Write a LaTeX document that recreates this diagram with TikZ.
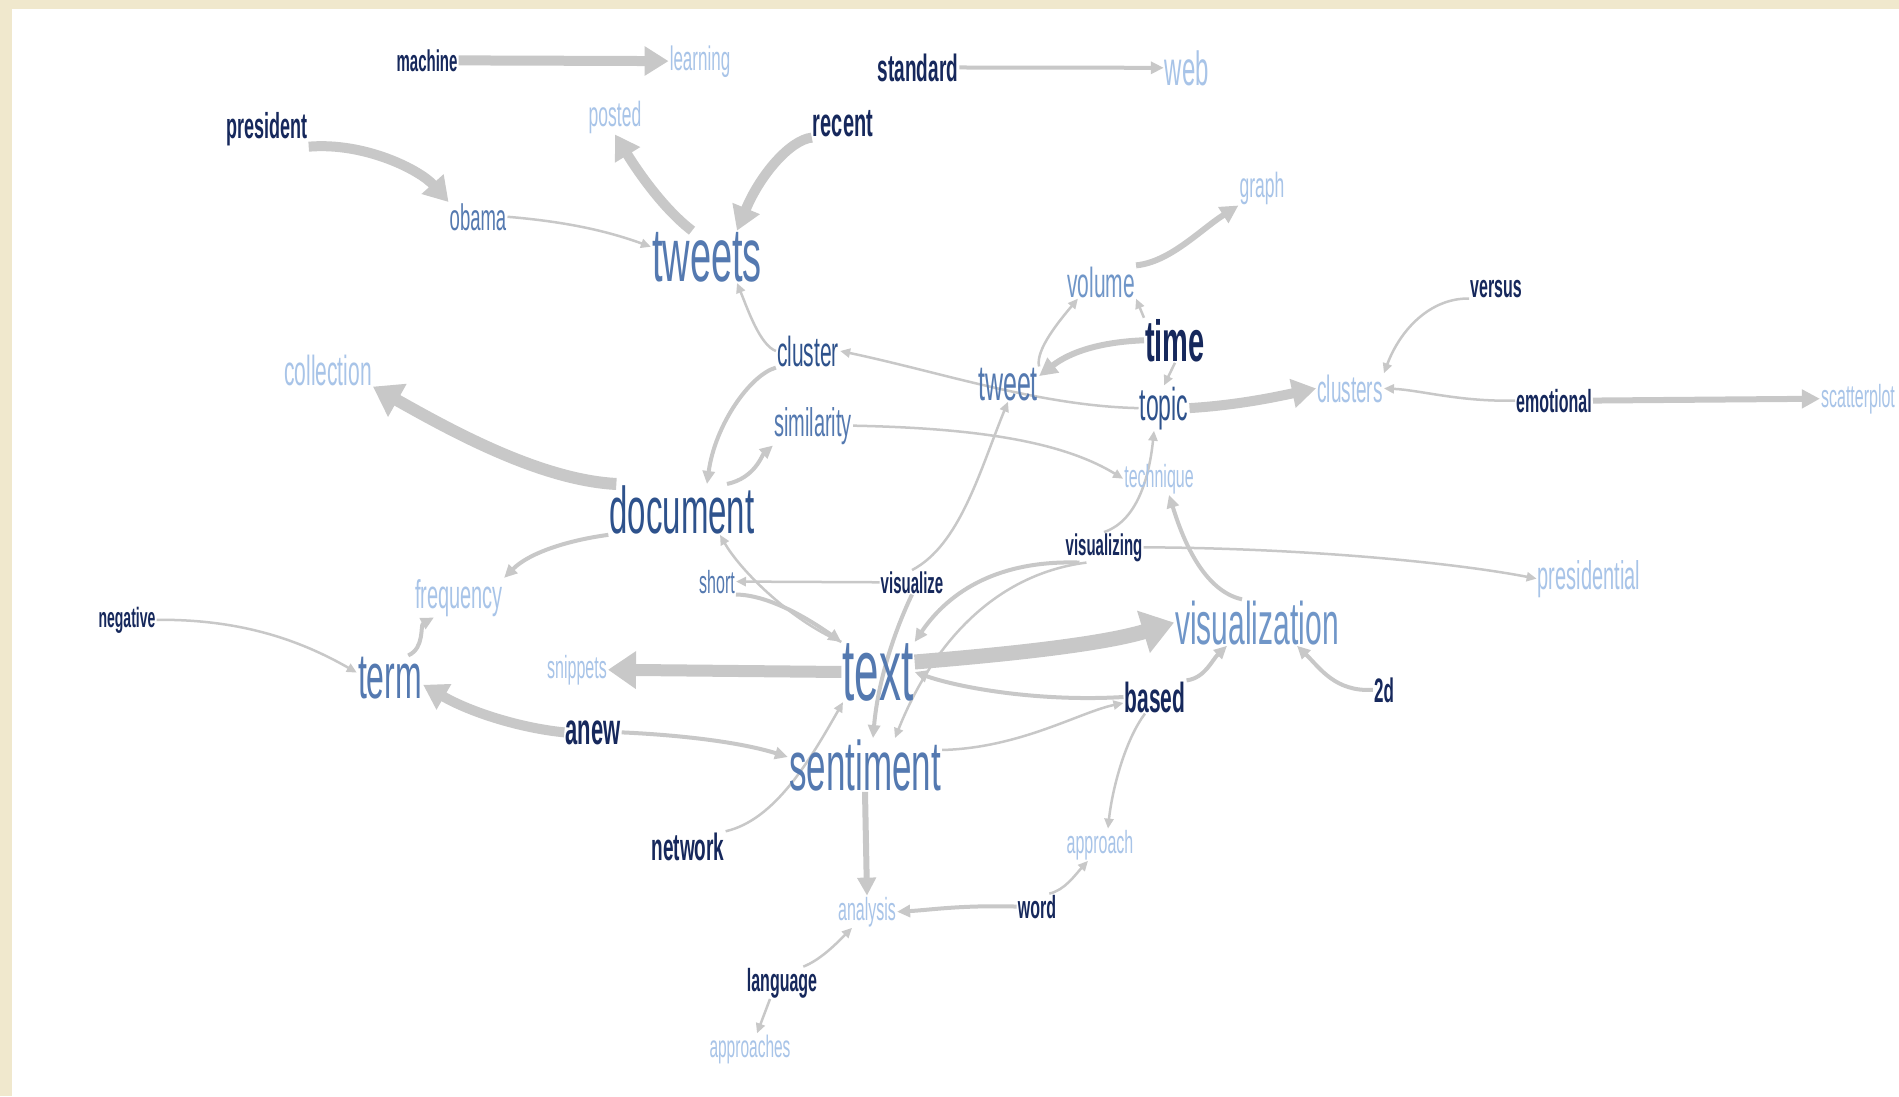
\documentclass[tikz,border=0pt]{standalone}
\usepackage{fontspec}
\setmainfont{Liberation Sans}[FakeStretch=0.5]
\usetikzlibrary{arrows.meta,backgrounds}
\tikzset{
  wd/.style={anchor=base,inner sep=1pt},
  dk/.style={wd,text=wnavy,font=\bfseries\fontsize{#1}{#1}\selectfont},
  dm/.style={wd,text=wdeep,font=\fontsize{#1}{#1}\selectfont},
  md/.style={wd,text=wmid,font=\fontsize{#1}{#1}\selectfont},
  ml/.style={wd,text=wsoft,font=\fontsize{#1}{#1}\selectfont},
  lt/.style={wd,text=wpale,font=\fontsize{#1}{#1}\selectfont},
  link/.style={draw=wgray,line width=#1},
  e1/.style={link=2.5pt,-{Triangle[length=10pt,width=9pt]}},
  e2/.style={link=4pt,-{Triangle[length=13pt,width=12pt]}},
  e3/.style={link=6pt,-{Triangle[length=18pt,width=18pt]}},
  e4/.style={link=10pt,-{Triangle[length=24pt,width=28pt]}},
  e5/.style={link=12pt,-{Triangle[length=28pt,width=36pt]}},
  e6/.style={link=15pt,-{Triangle[length=32pt,width=42pt]}}
}
\begin{document}
\begin{tikzpicture}[x=1pt,y=-1pt]
  \definecolor{wnavy}{RGB}{22,40,92}
  \definecolor{wdeep}{RGB}{46,82,140}
  \definecolor{wmid}{RGB}{84,121,176}
  \definecolor{wsoft}{RGB}{112,150,200}
  \definecolor{wpale}{RGB}{168,196,232}
  \definecolor{wgray}{RGB}{200,200,200}
  \definecolor{wbeige}{RGB}{240,232,205}
  \useasboundingbox (0,0) rectangle (1899,1096);
  \begin{pgfonlayer}{background}
    \fill[wbeige] (0,0) rectangle (1899,1096);
    \fill[white] (12,9) rectangle (1899,1096);
  \end{pgfonlayer}
  \foreach \n/\x/\y/\s in {machine/427/71/30, standard/918/81/38, president/267/138/36,
      recent/843/136/40, time/1175/361/58, versus/1496/297/32, emotional/1554/412/32,
      negative/127/627/28, visualize/912/593/30, visualizing/1104/555/30, based/1155/712/42,
      2d/1384/702/34, anew/593/744/44, network/688/860/38, word/1037/918/32, language/782/991/32}
    \node[dk=\s] (\n) at (\x,\y) {\n};
  \foreach \n/\x/\y/\s in {document/682/533/66, cluster/808/366/42, topic/1164/420/46}
    \node[dm=\s] (\n) at (\x,\y) {\n};
  \foreach \n/\x/\y/\s in {text/878/700/88, sentiment/865/790/70, tweets/707/281/76, term/390/698/64,
      tweet/1008/400/50, obama/478/230/37, similarity/813/436/40, short/717/593/32}
    \node[md=\s] (\n) at (\x,\y) {\n};
  \foreach \n/\x/\y/\s in {visualization/1257/644/60, volume/1101/297/42}
    \node[ml=\s] (\n) at (\x,\y) {\n};
  \foreach \n/\x/\y/\s in {learning/700/70/34, web/1187/85/48, posted/615/126/35, graph/1262/197/35,
      clusters/1350/402/38, scatterplot/1858/407/32, collection/328/385/42, technique/1159/487/32,
      presidential/1589/589/40, frequency/459/608/40, snippets/577/678/32, approach/1100/853/32,
      analysis/867/920/32, approaches/750/1057/31}
    \node[lt=\s] (\n) at (\x,\y) {\n};
  \begin{pgfonlayer}{background}
    \draw[e4] (machine) -- (learning);
    \draw[e2] (standard) -- (web);
    \draw[e4] (president.south east) .. controls (365,142) and (420,170) .. (obama.north west);
    \draw[e1] (obama.east) .. controls (570,222) and (610,232) .. ([yshift=10pt]tweets.west);
    \draw[e4] ([xshift=-15pt]tweets.north) .. controls (665,210) and (640,175) .. (posted.south);
    \draw[e4] (recent.south west) .. controls (790,140) and (760,175) .. ([xshift=30pt]tweets.north);
    \draw[e1] (cluster.west) .. controls (760,345) and (748,310) .. ([xshift=30pt]tweets.south);
    \draw[e3] (volume.north east) .. controls (1170,262) and (1200,230) .. (graph.south west);
    \draw[e1] (time.north west) -- (volume.south east);
    \draw[e3] (time.west) .. controls (1100,342) and (1070,352) .. ([yshift=8pt]tweet.east);
    \draw[e1] (time.south) -- (topic.north);
    \draw[e1] (tweet.north east) .. controls (1035,350) and (1060,320) .. ([xshift=12pt]volume.south west);
    \draw[e1] (topic.west) .. controls (1040,406) and (940,372) .. (cluster.east);
    \draw[e4] (topic.east) .. controls (1240,405) and (1280,396) .. (clusters.west);
    \draw[e1] (versus.south west) .. controls (1430,298) and (1400,330) .. (clusters.north east);
    \draw[e1] (emotional.west) .. controls (1460,402) and (1420,390) .. (clusters.east);
    \draw[e3] (emotional.east) -- (scatterplot.west);
    \draw[e5] ([xshift=8pt]document.north west) .. controls (540,480) and (450,430) .. (collection.south east);
    \draw[e2] (cluster.south west) .. controls (750,375) and (715,425) .. ([xshift=25pt]document.north);
    \draw[e2] ([xshift=45pt]document.north) .. controls (755,478) and (762,455) .. (similarity.south west);
    \draw[e1] (similarity.east) .. controls (970,428) and (1060,440) .. (technique.west);
    \draw[e1] (visualizing.north) .. controls (1140,520) and (1150,470) .. ([xshift=-10pt]topic.south);
    \draw[e2] ([xshift=-15pt]visualization.north) .. controls (1200,590) and (1180,530) .. ([xshift=10pt]technique.south);
    \draw[e1] (visualizing.east) .. controls (1300,548) and (1450,562) .. (presidential.west);
    \draw[e2] (document.south west) .. controls (570,540) and (530,552) .. (frequency.north east);
    \draw[e2] ([xshift=-15pt]term.north east) .. controls (425,648) and (420,625) .. ([xshift=20pt]frequency.south west);
    \draw[e1] (negative.east) .. controls (240,619) and (300,640) .. ([yshift=5pt]term.west);
    \draw[e5] (text.west) -- (snippets.east);
    \draw[e6] ([yshift=10pt]text.east) .. controls (1000,655) and (1100,645) .. (visualization.west);
    \draw[e4] (anew.west) .. controls (520,728) and (470,712) .. ([yshift=15pt]term.south east);
    \draw[e2] (anew.east) .. controls (680,735) and (740,742) .. ([yshift=8pt]sentiment.west);
    \draw[e1] (text.north west) .. controls (790,620) and (740,570) .. ([xshift=38pt]document.south);
    \draw[e2] (short.south east) .. controls (770,595) and (810,620) .. (text.north west);
    \draw[e1] (visualize.west) -- (short.east);
    \draw[e1] (visualize.north) .. controls (960,545) and (980,470) .. (tweet.south);
    \draw[e2] (visualize.south) .. controls (895,630) and (878,680) .. ([xshift=8pt]sentiment.north);
    \draw[e2] ([xshift=15pt]visualizing.south west) .. controls (1000,560) and (950,590) .. (text.north east);
    \draw[e1] ([xshift=22pt]visualizing.south west) .. controls (990,575) and (930,650) .. ([xshift=30pt]sentiment.north);
    \draw[e2] (based.west) .. controls (1040,702) and (960,688) .. (text.east);
    \draw[e1] ([yshift=15pt]sentiment.east) .. controls (1020,748) and (1080,712) .. ([yshift=-6pt]based.west);
    \draw[e2] (based.north east) .. controls (1205,678) and (1212,660) .. ([xshift=-30pt]visualization.south);
    \draw[e2] (2d.west) .. controls (1335,692) and (1320,668) .. ([xshift=40pt]visualization.south);
    \draw[e1] ([xshift=-10pt]based.south) .. controls (1125,740) and (1112,790) .. ([xshift=8pt]approach.north);
    \draw[e1] ([xshift=-8pt]word.north east) .. controls (1065,890) and (1075,875) .. ([xshift=-12pt]approach.south);
    \draw[e2] (word.west) .. controls (960,905) and (930,910) .. (analysis.east);
    \draw[e3] (sentiment.south) -- (analysis.north);
    \draw[e1] (network.north east) .. controls (775,820) and (810,760) .. ([xshift=-35pt]text.south);
    \draw[e1] ([xshift=-15pt]language.north east) .. controls (820,960) and (835,945) .. ([xshift=-15pt]analysis.south);
    \draw[e1] ([xshift=-12pt]language.south) -- ([xshift=7pt]approaches.north);
  \end{pgfonlayer}
\end{tikzpicture}
\end{document}
